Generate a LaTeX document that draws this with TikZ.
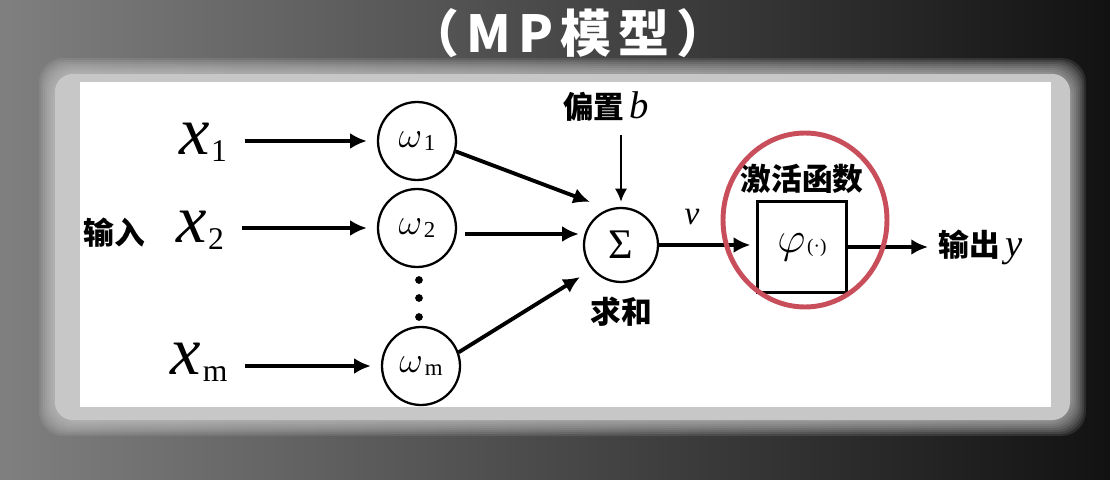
\documentclass[tikz,border=0pt]{standalone}
\usepackage{fontspec}
\setmainfont{Liberation Serif}
\newfontfamily\cjk{Noto Sans CJK SC}
\usetikzlibrary{arrows.meta, positioning, calc, shapes.geometric}
\definecolor{ringred}{RGB}{200,78,92}
\newcommand{\inx}[1]{\textit{x}\kern1pt\raisebox{-4pt}{\fontsize{18}{18}\selectfont #1}}
\newcommand{\wt}[1]{$\omega$\kern1pt\raisebox{-2pt}{\fontsize{13}{13}\selectfont #1}}
\tikzset{
  wnode/.style   = {circle, draw=black, line width=1.3pt, minimum size=1.56cm, inner sep=0pt,
                    font=\fontsize{21}{21}\selectfont},
  sumnode/.style = {circle, draw=black, line width=1.3pt, minimum size=1.48cm, inner sep=0pt,
                    font=\fontsize{24}{24}\selectfont},
  actbox/.style  = {rectangle, draw=black, line width=1.3pt, minimum width=1.78cm,
                    minimum height=1.82cm, inner sep=0pt, font=\fontsize{24}{24}\selectfont},
  cjklab/.style  = {font=\cjk\bfseries\fontsize{17.5}{17.5}\selectfont, inner sep=0pt},
  invar/.style   = {font=\fontsize{39}{39}\selectfont, inner sep=0pt, outer sep=10pt},
  arr/.style     = {-{Latex[length=9.5pt,width=9pt]}, line width=2.2pt},
  arrthin/.style = {-{Latex[length=7.5pt,width=7pt]}, line width=1.3pt},
  ring/.style    = {draw=ringred, line width=2.8pt},
  title/.style   = {text=white, font=\cjk\bfseries\fontsize{29}{29}\selectfont\addfontfeature{LetterSpace=14}},
}
\begin{document}
\begin{tikzpicture}[x=0.02cm, y=-0.02cm]
  \useasboundingbox (0,0) rectangle (1110,480);
  % backdrop and glowing panel
  \shade[left color=black!50, right color=black!93] (0,0) rectangle (1110,480);
  \foreach \d in {2,4,...,16}
    \fill[black!20, opacity=0.13, rounded corners=14pt] (55-\d,74-\d) rectangle (1070+\d,420+\d);
  \fill[black!22, rounded corners=10pt] (55,74) rectangle (1070,420);
  \fill[white] (80,82) rectangle (1051,407);

  \node[title] (ttl) at (568,33) {（MP模型）};

  % inputs and weights
  \node[cjklab] (inlab) at (114,233) {输入};
  \node[invar] (x1) at (203,142) {\inx{1}};
  \node[invar] (x2) at (200,230) {\inx{2}};
  \node[invar] (xm) at (199,362) {\inx{m}};
  \node[wnode] (w1) at (417,141) {\wt{1}};
  \node[wnode] (w2) at (417,228) {\wt{2}};
  \node[wnode] (wm) at (421,366) {\wt{m}};
  \foreach \yy in {280,298,317}
    \fill (419,\yy) circle [radius=2.2pt];

  % summation and activation
  \node[sumnode] (sum) at (621,245) {Σ};
  \node[cjklab, below=0.28cm of sum] (sumlab) {求和};
  \node[cjklab] (bias) at (606,107) {偏置\,{\normalfont\itshape\fontsize{22}{22}\selectfont b}};
  \node[actbox] (act) at (802,247) {$\varphi$\kern1pt{\fontsize{11}{11}\selectfont(·)}};
  \node[cjklab, above=0.12cm of act] (actlab) {激活函数};
  \node[cjklab, anchor=west] (out) at (938,247) {输出\kern3pt{\normalfont\itshape\fontsize{22}{22}\selectfont y}};
  \node[font=\fontsize{19}{19}\selectfont] (vlab) at (692,217) {\textit{v}};

  \draw[arr, shorten >=0.2cm] (x1.east |- w1) -- (w1);
  \draw[arr, shorten >=0.2cm] (x2.east |- w2) -- (w2);
  \draw[arr, shorten >=0.2cm] (xm.east |- wm) -- (wm);
  \draw[arr] (w1.-15) -- ([shift={(-31,-43)}]sum.center);
  \draw[arr] ([shift={(8,6)}]w2.east) -- ([shift={(-4,6)}]w2.east -| sum.west);
  \draw[arr] (wm.20) -- ([shift={(-41,32)}]sum.center);
  \draw[arrthin, shorten <=0.25cm, shorten >=0.1cm] (bias.south -| sum) -- (sum.north);
  \draw[arr, shorten >=0.12cm] (sum.east) -- (act.west |- sum.east);
  \draw[arr, shorten >=0.2cm] (act.east) -- (out.west);

  \draw[ring] ([shift={(3,-27)}]act.center) ellipse [x radius=1.64cm, y radius=1.74cm];
\end{tikzpicture}
\end{document}
